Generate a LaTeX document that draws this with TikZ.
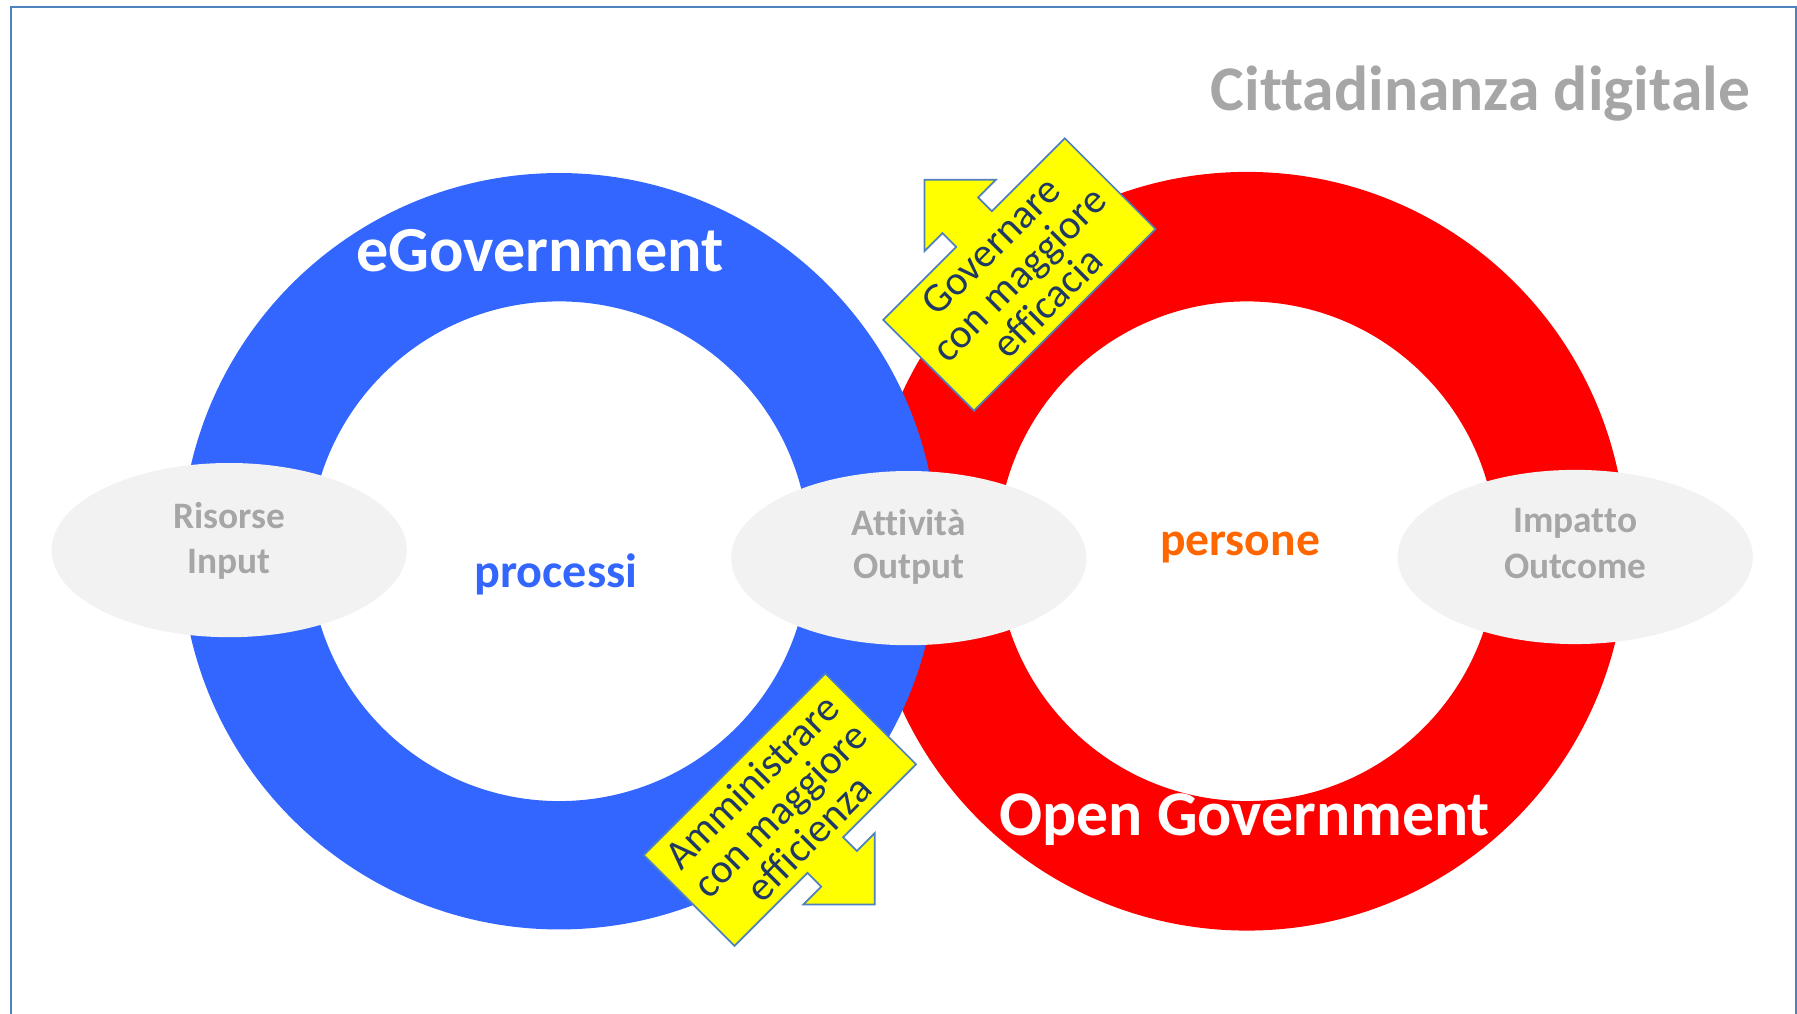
\documentclass[tikz,border=0pt]{standalone}
\usepackage{fontspec}
\setmainfont[Ligatures={NoCommon,NoRare}]{Carlito}
\usetikzlibrary{shapes.geometric}
\definecolor{ringblue}{HTML}{3366FF}
\definecolor{ringred}{HTML}{FF0000}
\definecolor{ellgray}{HTML}{F2F2F2}
\definecolor{txtgray}{HTML}{A6A6A6}
\definecolor{procblue}{HTML}{3366FF}
\definecolor{persorange}{HTML}{FF6600}
\definecolor{framecol}{HTML}{4F81BD}
\definecolor{arrowfill}{HTML}{FFFF00}
\definecolor{arrowline}{HTML}{4F81BD}
\definecolor{arrowtxt}{HTML}{1F3864}
\tikzset{
  ring/.style={even odd rule},
  ovalbox/.style={ellipse, fill=ellgray, minimum width=310pt, minimum height=152pt, inner sep=0pt, outer sep=0pt},
  ovaltext/.style={anchor=base, text=txtgray, font=\fontsize{32.6}{38}\selectfont\bfseries, inner sep=0pt},
  bigwhite/.style={anchor=base, text=white, font=\fontsize{56}{66}\selectfont\bfseries, inner sep=0pt},
  calloutshape/.style={fill=arrowfill, draw=arrowline, line width=1.5pt, line join=miter},
  callouttext/.style={text=arrowtxt, align=center, font=\fontsize{36}{35}\selectfont, inner sep=0pt, rotate=45}
}
\begin{document}
\begin{tikzpicture}[x=1pt,y=1pt]
\useasboundingbox (0,0) rectangle (1568,884);
% frame
\draw[framecol, line width=1.7pt] (9.6,-10) -- (9.6,878) -- (1566.8,878) -- (1566.8,-10);
% title
\node[anchor=base east, text=txtgray, font=\fontsize{55.5}{66}\selectfont\bfseries, inner sep=0pt] (title) at (1527,788) {Cittadinanza digitale};
% rings
\coordinate (cblue) at (488,403);
\coordinate (cred) at (1088,403);
\fill[ringred, ring] (cred) circle (331) (cred) circle (218);
\fill[ringblue, ring] (cblue) circle (330) (cblue) circle (218);
% ovals
\node[ovalbox] (risorse) at (200,404) {};
\node[ovalbox] (attivita) at (793,397) {};
\node[ovalbox] (impatto) at (1374.5,398) {};
\node[ovaltext] (t1a) at (200,423) {Risorse};
\node[ovaltext] (t1b) at (200,384) {Input};
\node[ovaltext] (t2a) at (793,417) {Attività};
\node[ovaltext] (t2b) at (793,379.5) {Output};
\node[ovaltext] (t3a) at (1374.5,419) {Impatto};
\node[ovaltext] (t3b) at (1374.5,379.5) {Outcome};
% ring labels
\node[bigwhite] (egov) at (471,647) {eGovernment};
\node[bigwhite, font=\fontsize{55.6}{66}\selectfont\bfseries] (opengov) at (1086,155) {Open Government};
\node[anchor=base, text=procblue, font=\fontsize{42}{50}\selectfont\bfseries, inner sep=0pt] (processi) at (485,371) {processi};
\node[anchor=base, text=persorange, font=\fontsize{41.5}{50}\selectfont\bfseries, inner sep=0pt] (persone) at (1082,399) {persone};
% upper callout arrow
\begin{scope}[shift={(889.5,644.5)}, rotate=45]
\draw[calloutshape] (-112,-56) -- (112,-56) -- (112,56) -- (22,56) -- (22,73) -- (44,73) -- (0,117) -- (-44,73) -- (-22,73) -- (-22,56) -- (-112,56) -- cycle;
\end{scope}
\node[callouttext] (gov) at (889.5,644.5) {Governare\\con maggiore\\efficacia};
% lower callout arrow
\begin{scope}[shift={(680.5,177.5)}, rotate=45]
\draw[calloutshape] (-112,56) -- (112,56) -- (112,-56) -- (22,-56) -- (22,-73) -- (44,-73) -- (0,-117) -- (-44,-73) -- (-22,-73) -- (-22,-56) -- (-112,-56) -- cycle;
\end{scope}
\node[callouttext] (amm) at (680.5,177.5) {Amministrare\\con maggiore\\efficienza};
\end{tikzpicture}
\end{document}
